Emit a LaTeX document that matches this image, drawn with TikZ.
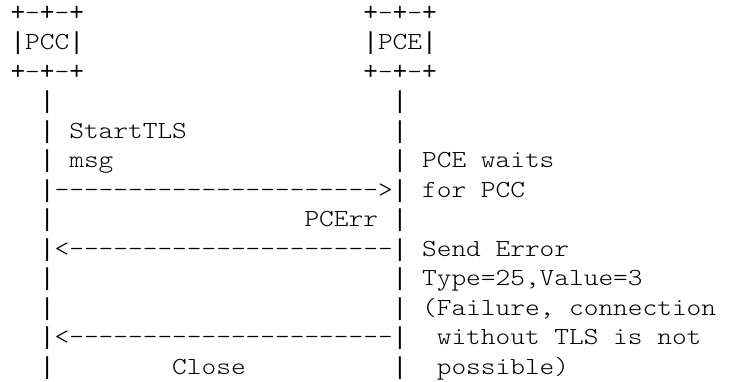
\documentclass[tikz,border=0pt]{standalone}
\usepackage{fontspec}
\setmonofont{lmmonolt10-regular.otf}[FakeStretch=1.1429]
\newfontfamily\barfont{Liberation Mono}
\newcommand\vb{{\barfont|}}
\newcommand\pl{{\barfont+}}
\frenchspacing
\begin{document}
\begin{tikzpicture}[
  txt/.style={anchor=base west, inner sep=0pt, outer sep=0pt,
    font=\ttfamily\fontsize{24.5}{29.5}\selectfont, text=black}
]
\fill[white] (0,0) rectangle (744pt,-381pt);
\useasboundingbox (0,0) rectangle (744pt,-381pt);
\begin{scope}[x=14.7pt, y=-29.5pt, shift={(10.5pt,-20pt)}]
  % PCC box
  \node[txt] (pccTop) at (0,0) {\pl-\pl-\pl};
  \node[txt] (pccMid) at (0,1) {\vb PCC\vb};
  \node[txt] (pccBot) at (0,2) {\pl-\pl-\pl};
  % PCE box
  \node[txt] (pceTop) at (24,0) {\pl-\pl-\pl};
  \node[txt] (pceMid) at (24,1) {\vb PCE\vb};
  \node[txt] (pceBot) at (24,2) {\pl-\pl-\pl};
  % lifelines
  \foreach \r in {3,...,12} {
    \node[txt] (pccLine\r) at (2,\r) {\vb};
    \node[txt] (pceLine\r) at (26,\r) {\vb};
  }
  % messages
  \node[txt] (startTLS) at (4,4) {StartTLS};
  \node[txt] (msg) at (4,5) {msg};
  \node[txt] (arrowA) at (3,6) {---------------------->};
  \node[txt] (pcerr) at (20,7) {PCErr};
  \node[txt] (arrowB) at (3,8) {<----------------------};
  \node[txt] (arrowC) at (3,11) {<----------------------};
  \node[txt] (close) at (11,12) {Close};
  % notes
  \node[txt] (waits) at (28,5) {PCE waits};
  \node[txt] (forpcc) at (28,6) {for PCC};
  \node[txt] (senderr) at (28,8) {Send Error};
  \node[txt] (type) at (28,9) {Type=25,Value=3};
  \node[txt] (failure) at (28,10) {(Failure, connection};
  \node[txt] (without) at (29,11) {without TLS is not};
  \node[txt] (possible) at (29,12) {possible)};
\end{scope}
\end{tikzpicture}
\end{document}
